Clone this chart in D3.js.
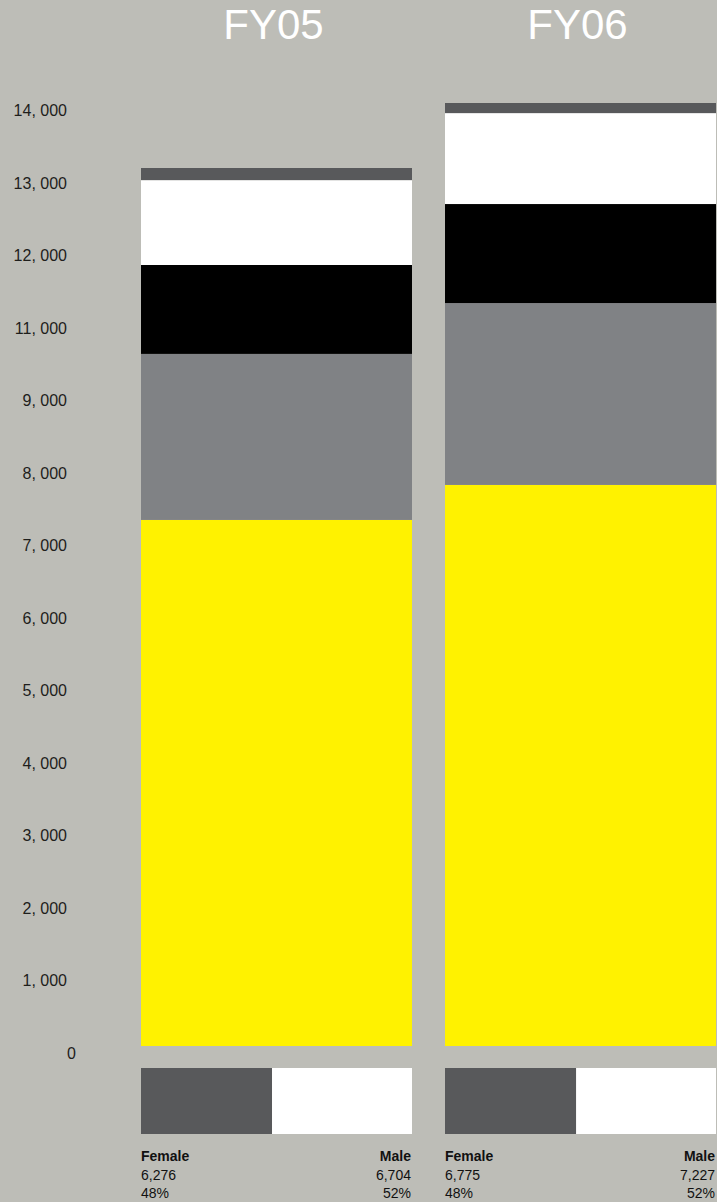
<!DOCTYPE html>
<html>
<head>
<meta charset="utf-8">
<script src="https://cdn.jsdelivr.net/npm/d3@7"></script>
<style>
  html, body { margin: 0; padding: 0; background: #bdbdb7; }
  svg { display: block; font-family: "Liberation Sans", Arial, sans-serif; }
  .yaxis text { font-size: 16px; fill: #1e1e1c; }
  .gender text { font-size: 14px; fill: #111; }
</style>
</head>
<body>
<div id="the_chart"></div>
<script>
// fiscal years
var years = ["FY05", "FY06"];

// stacked segments, bottom to top
var segYellow = [7810, 8330];
var segGrey = [2465, 2700];
var segBlack = [1320, 1470];
var segWhite = [1260, 1350];
var segDark = [180, 150];

// gender split
var female = [6276, 6775];
var male = [6704, 7227];
var femalePct = ["48%", "48%"];
var malePct = ["52%", "52%"];

// axis labels (evenly spaced, as printed)
var tickLabels = ["0", "1, 000", "2, 000", "3, 000", "4, 000", "5, 000", "6, 000",
    "7, 000", "8, 000", "9, 000", "11, 000", "12, 000", "13, 000", "14, 000"];

var w = 717;
var h = 1202;

var segKeys = ["yellow", "grey", "black", "white", "dark"];
var segColors = ["#fff200", "#808285", "#000000", "#ffffff", "#58595b"];

var stackData = years.map(function (y, i) {
    return {
        year: y,
        yellow: segYellow[i],
        grey: segGrey[i],
        black: segBlack[i],
        white: segWhite[i],
        dark: segDark[i]
    };
});

var svg = d3.select("#the_chart")
    .append("svg")
    .attr("width", w)
    .attr("height", h);

var xscale = d3.scaleBand()
    .domain(years)
    .range([141, 716])
    .paddingInner(0.1086)
    .paddingOuter(0);

var yscale = d3.scaleLinear()
    .domain([0, 14000])
    .range([1046, 103]);

// printed axis is just evenly spaced labels
var axisScale = d3.scalePoint()
    .domain(tickLabels)
    .range([1053, 110.5]);

var yaxis = d3.axisLeft(axisScale)
    .tickSize(0)
    .tickPadding(0);
var gy = svg.append("g")
    .attr("class", "yaxis")
    .attr("transform", "translate(67,0)")
    .call(yaxis);
gy.select(".domain").remove();
gy.selectAll("text")
    .filter(function (d) { return d === "0"; })
    .attr("dx", 9);

// titles
svg.selectAll("text.title")
    .data(years)
    .enter().append("text")
    .attr("class", "title")
    .attr("x", function (d) { return xscale(d) + xscale.bandwidth() / 2 - 3; })
    .attr("y", 39)
    .attr("text-anchor", "middle")
    .attr("fill", "#ffffff")
    .style("font-size", "42px")
    .text(function (d) { return d; });

// stacked bars
var series = d3.stack().keys(segKeys)(stackData);
svg.selectAll("g.layer")
    .data(series)
    .enter().append("g")
    .attr("class", "layer")
    .attr("fill", function (d, i) { return segColors[i]; })
    .selectAll("rect")
    .data(function (d) { return d; })
    .enter().append("rect")
    .attr("x", function (d) { return xscale(d.data.year); })
    .attr("width", xscale.bandwidth())
    .attr("y", function (d) { return yscale(d[1]); })
    .attr("height", function (d) { return yscale(d[0]) - yscale(d[1]); });

// gender bars
var gender = svg.append("g").attr("class", "gender");
years.forEach(function (y, i) {
    var gx = d3.scaleLinear()
        .domain([0, female[i] + male[i]])
        .range([xscale(y), xscale(y) + xscale.bandwidth()]);
    gender.append("rect")
        .attr("x", gx(0))
        .attr("y", 1068)
        .attr("width", gx(female[i]) - gx(0))
        .attr("height", 66)
        .attr("fill", "#58595b");
    gender.append("rect")
        .attr("x", gx(female[i]))
        .attr("y", 1068)
        .attr("width", gx(female[i] + male[i]) - gx(female[i]))
        .attr("height", 66)
        .attr("fill", "#ffffff");

    var left = [["Female", "bold"], [d3.format(",")(female[i]), "normal"], [femalePct[i], "normal"]];
    var right = [["Male", "bold"], [d3.format(",")(male[i]), "normal"], [malePct[i], "normal"]];
    left.forEach(function (t, j) {
        gender.append("text")
            .attr("x", gx(0))
            .attr("y", 1161 + j * 18.5)
            .style("font-weight", t[1])
            .text(t[0]);
    });
    right.forEach(function (t, j) {
        gender.append("text")
            .attr("x", gx(female[i] + male[i]) - 1)
            .attr("y", 1161 + j * 18.5)
            .attr("text-anchor", "end")
            .style("font-weight", t[1])
            .text(t[0]);
    });
});
</script>
</body>
</html>
